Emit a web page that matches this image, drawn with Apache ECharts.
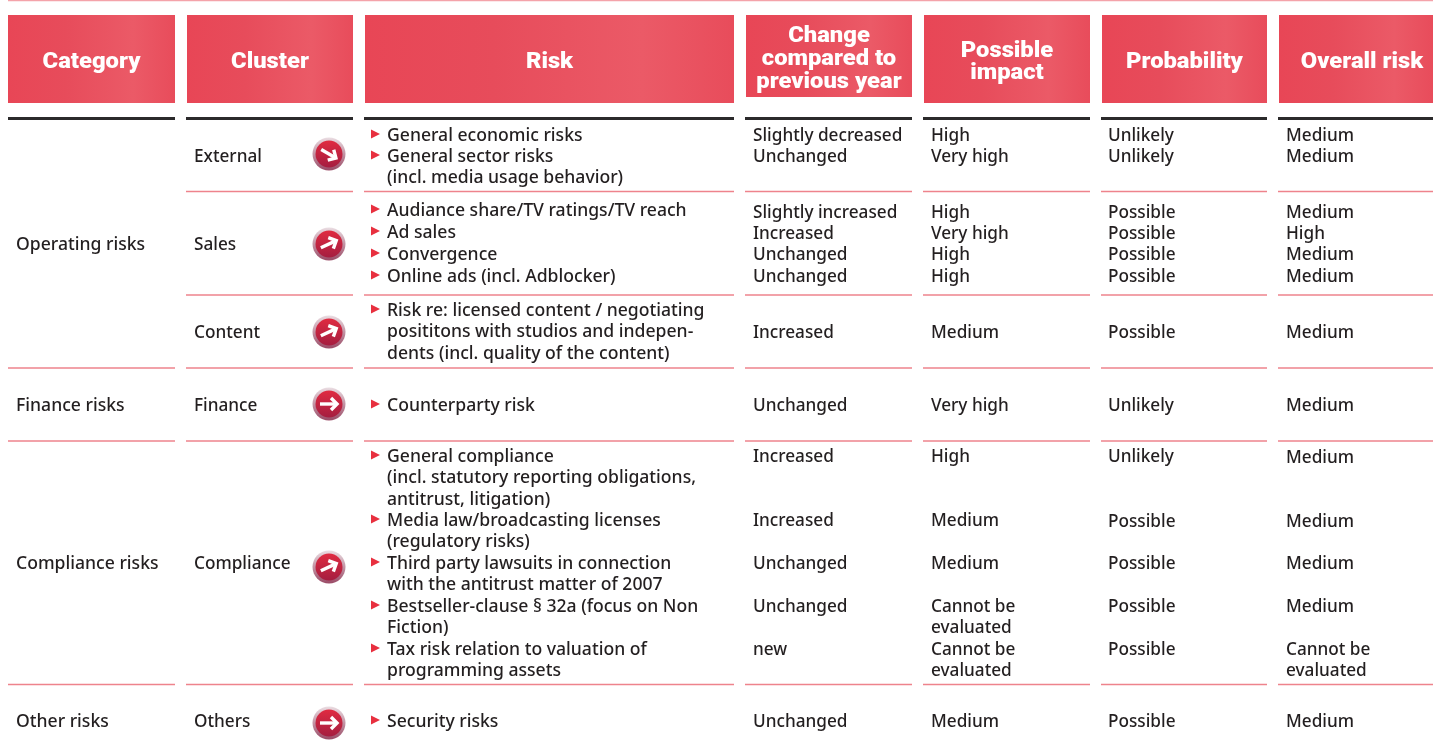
<!DOCTYPE html>
<html>
<head>
<meta charset="utf-8">
<style>
  html, body { margin: 0; padding: 0; background: #fff; }
  #chart { width: 1433px; height: 753px; }
</style>
<script src="https://cdn.jsdelivr.net/npm/echarts@6/dist/echarts.min.js"></script>
</head>
<body>
<div id="chart"></div>
<script>
// table content
const headerTexts = [
  ['Category'], ['Cluster'], ['Risk'],
  ['Change', 'compared to', 'previous year'],
  ['Possible', 'impact'], ['Probability'], ['Overall risk']
];
const categories = ['Operating risks', 'Finance risks', 'Compliance risks', 'Other risks'];
const clusters = ['External', 'Sales', 'Content', 'Finance', 'Compliance', 'Others'];
// arrow angle of each cluster, degrees (positive = up)
const clusterTrend = [-30, 25, 25, 0, 25, 0];
const riskLines = [
  '▸General economic risks', '▸General sector risks', '(incl. media usage behavior)',
  '▸Audiance share/TV ratings/TV reach', '▸Ad sales', '▸Convergence', '▸Online ads (incl. Adblocker)',
  '▸Risk re: licensed content / negotiating', 'posititons with studios and indepen-', 'dents (incl. quality of the content)',
  '▸Counterparty risk',
  '▸General compliance', '(incl. statutory reporting obligations,', 'antitrust, litigation)',
  '▸Media law/broadcasting licenses', '(regulatory risks)',
  '▸Third party lawsuits in connection', 'with the antitrust matter of 2007',
  '▸Bestseller-clause § 32a (focus on Non', 'Fiction)',
  '▸Tax risk relation to valuation of', 'programming assets',
  '▸Security risks'
];
const changeValues = [
  'Slightly decreased', 'Unchanged', 'Slightly increased', 'Increased', 'Unchanged', 'Unchanged',
  'Increased', 'Unchanged', 'Increased', 'Increased', 'Unchanged', 'Unchanged', 'new', 'Unchanged'
];
const impactValues = [
  'High', 'Very high', 'High', 'Very high', 'High', 'High', 'Medium', 'Very high', 'High',
  'Medium', 'Medium', 'Cannot be', 'evaluated', 'Cannot be', 'evaluated', 'Medium'
];
const probabilityValues = [
  'Unlikely', 'Unlikely', 'Possible', 'Possible', 'Possible', 'Possible', 'Possible', 'Unlikely',
  'Unlikely', 'Possible', 'Possible', 'Possible', 'Possible', 'Possible'
];
const overallValues = [
  'Medium', 'Medium', 'Medium', 'High', 'Medium', 'Medium', 'Medium', 'Medium', 'Medium',
  'Medium', 'Medium', 'Medium', 'Cannot be', 'evaluated', 'Medium'
];

// layout, in page pixels
const W = 1433, H = 753;
const headerBoxes = [[8, 175, 103], [187, 353, 103], [365, 734, 103], [746, 912, 97], [924, 1090, 103], [1102, 1267, 103], [1279, 1433, 103]];
const headerCenterX = [91.5, 270, 549.5, 829, 1007, 1184.5, 1362];
const headerLineY = [[62], [62], [62], [36, 59, 82], [51, 73], [62], [62]];
const ruleCols = [[8, 175], [186, 353], [364, 734], [745, 912], [923, 1090], [1101, 1267], [1278, 1433]];
const rowRules = [191.5, 295, 368, 441, 684.5];
const categoryRules = [368, 441, 684.5];
const categoryY = [245, 406, 564, 722];
const clusterY = [157, 245, 333, 406, 564, 722];
const badgeY = [154, 244, 332, 404, 567, 723];
const riskY = [136, 157, 178, 211, 233, 255, 277, 311, 332, 354, 406, 457, 478, 500, 521, 542, 564, 585, 607, 628, 650, 671, 722];
const changeY = [136, 157, 213, 234, 255, 277, 333, 406, 457, 521, 564, 607, 650, 722];
const impactY = [136, 157, 213, 234, 255, 277, 333, 406, 457, 521, 564, 607, 628, 650, 671, 722];
const probabilityY = [136, 157, 213, 234, 255, 277, 333, 406, 457, 522, 564, 607, 650, 722];
const overallY = [136, 157, 213, 234, 255, 277, 333, 406, 458, 522, 564, 607, 650, 671, 722];

const bodyFont = '500 17.6px "Noto Sans"';
const valueFont = '500 17.2px "Noto Sans"';
const headFont = '900 22px Roboto';
const headStretch = 1.08;

function textRows(texts, ys, x, font) {
  return texts.map((t, i) => [x, ys[i], t.replace('▸', ''), font]);
}
const bodyRows = [].concat(
  textRows(categories, categoryY, 16, bodyFont),
  textRows(clusters, clusterY, 194, valueFont),
  textRows(riskLines, riskY, 387, bodyFont),
  textRows(changeValues, changeY, 753, valueFont),
  textRows(impactValues, impactY, 931, valueFont),
  textRows(probabilityValues, probabilityY, 1108, valueFont),
  textRows(overallValues, overallY, 1286, valueFont)
);
const bulletRows = riskLines.map((t, i) => t[0] === '▸' ? [375.5, riskY[i] - 2] : null).filter(Boolean);

const ruleRows = [];
ruleCols.forEach((c, i) => {
  ruleRows.push([c[0], c[1], 118.5, 1]);
  (i === 0 ? categoryRules : rowRules).forEach(y => ruleRows.push([c[0], c[1], y, 0]));
});
ruleRows.push([8, W, 0.5, 2]);

const chart = echarts.init(document.getElementById('chart'));
chart.setOption({
  animation: false,
  grid: { left: 0, right: 0, top: 0, bottom: 0 },
  xAxis: { type: 'value', min: 0, max: W, show: false },
  yAxis: { type: 'value', min: 0, max: H, inverse: true, show: false },
  series: [
    {
      // red header boxes
      type: 'custom',
      coordinateSystem: 'cartesian2d',
      data: headerBoxes.map((b, i) => [b[0], b[1], b[2], i]),
      renderItem(params, api) {
        const p0 = api.coord([api.value(0), 15]);
        const p1 = api.coord([api.value(1), api.value(2)]);
        const idx = api.value(3);
        const children = [{
          type: 'rect',
          shape: { x: p0[0], y: p0[1], width: p1[0] - p0[0], height: p1[1] - p0[1] },
          style: {
            fill: new echarts.graphic.LinearGradient(0, 0, 1, 0, [
              { offset: 0, color: '#e84656' },
              { offset: 0.35, color: '#e74c5b' },
              { offset: 0.75, color: '#eb5a67' },
              { offset: 1, color: '#e84c5b' }
            ])
          }
        }];
        headerTexts[idx].forEach((line, k) => {
          children.push({
            type: 'text',
            x: api.coord([headerCenterX[idx], 0])[0],
            y: api.coord([0, headerLineY[idx][k]])[1],
            scaleX: headStretch,
            style: {
              x: 0, y: 0,
              text: line, fill: '#fff', font: headFont,
              align: 'center', verticalAlign: 'middle'
            }
          });
        });
        return { type: 'group', children };
      }
    },
    {
      // black and pink rules
      type: 'custom',
      coordinateSystem: 'cartesian2d',
      data: ruleRows,
      renderItem(params, api) {
        const kind = api.value(3);
        const a = api.coord([api.value(0), api.value(2)]);
        const b = api.coord([api.value(1), api.value(2)]);
        const stroke = kind === 1 ? '#2b2a2b' : (kind === 2 ? '#f4a3aa' : '#ee838c');
        return {
          type: 'line',
          shape: { x1: a[0], y1: a[1], x2: b[0], y2: b[1] },
          style: { stroke, lineWidth: kind === 1 ? 3 : (kind === 2 ? 1.5 : 1.4) }
        };
      }
    },
    {
      // all body text
      type: 'custom',
      coordinateSystem: 'cartesian2d',
      data: bodyRows,
      renderItem(params, api) {
        const p = api.coord([api.value(0), api.value(1)]);
        const row = bodyRows[params.dataIndex];
        return {
          type: 'text',
          style: {
            x: p[0], y: p[1], text: row[2],
            fill: '#231f20', font: row[3], align: 'left', verticalAlign: 'middle'
          }
        };
      }
    },
    {
      // risk bullets
      type: 'scatter',
      data: bulletRows,
      symbol: 'triangle',
      symbolRotate: -90,
      symbolSize: [9, 9],
      itemStyle: { color: '#e8303f', opacity: 1 }
    },
    {
      // arrow badges
      type: 'custom',
      coordinateSystem: 'cartesian2d',
      data: clusterTrend.map((a, i) => [329, badgeY[i], a]),
      renderItem(params, api) {
        const p = api.coord([api.value(0), api.value(1)]);
        return {
          type: 'group',
          x: p[0], y: p[1],
          children: [
            {
              type: 'circle',
              shape: { cx: 0, cy: 0, r: 16.5 },
              style: {
                fill: new echarts.graphic.LinearGradient(0, 0, 0, 1, [
                  { offset: 0, color: '#eadde2' },
                  { offset: 1, color: '#9a4a66' }
                ])
              }
            },
            {
              type: 'circle',
              shape: { cx: 0, cy: 0, r: 13.5 },
              style: {
                fill: new echarts.graphic.LinearGradient(0, 0, 0, 1, [
                  { offset: 0, color: '#e02b41' },
                  { offset: 1, color: '#a51d40' }
                ])
              }
            },
            {
              type: 'group',
              rotation: api.value(2) * Math.PI / 180,
              children: [
                { type: 'line', shape: { x1: -9, y1: 0, x2: 8, y2: 0 }, style: { stroke: '#fff', lineWidth: 3.4 } },
                { type: 'polyline', shape: { points: [[2, -6], [8, 0], [2, 6]] }, style: { stroke: '#fff', lineWidth: 3.4, fill: null } }
              ]
            }
          ]
        };
      }
    }
  ]
});
</script>
</body>
</html>
